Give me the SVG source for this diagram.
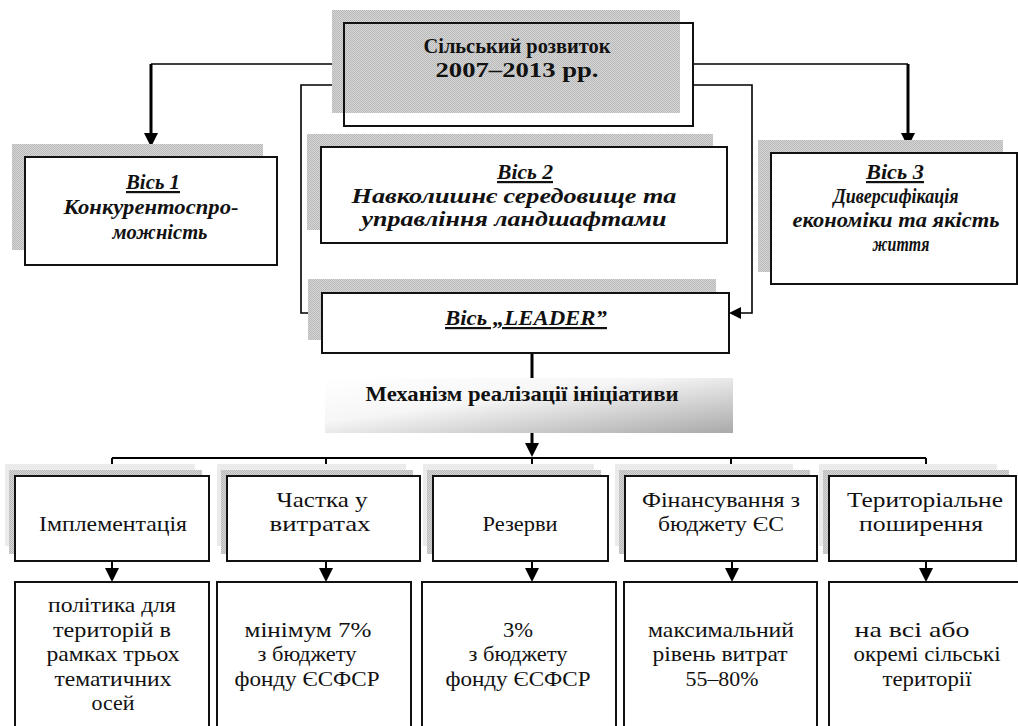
<svg xmlns="http://www.w3.org/2000/svg" width="1018" height="726" viewBox="0 0 1018 726">
<defs>
<pattern id="dots" width="2" height="2" patternUnits="userSpaceOnUse">
<rect width="2" height="2" fill="#d6d6d6"/>
<rect width="1" height="1" fill="#b9b9b9"/>
<rect x="1" y="1" width="1" height="1" fill="#b9b9b9"/>
</pattern>
<linearGradient id="mech" x1="0" y1="0" x2="1" y2="1">
<stop offset="0" stop-color="#ffffff"/>
<stop offset="0.4" stop-color="#f6f6f6"/>
<stop offset="1" stop-color="#a9a9a9"/>
</linearGradient>
<marker id="ah" viewBox="0 0 14 14" markerUnits="userSpaceOnUse" markerWidth="14" markerHeight="14" refX="8" refY="7" orient="auto">
<path d="M0,0 L14,7 L0,14 z" fill="#000"/>
</marker>
<marker id="ahs" viewBox="0 0 12 12" markerUnits="userSpaceOnUse" markerWidth="12" markerHeight="12" refX="6" refY="6" orient="auto">
<path d="M0,0 L12,6 L0,12 z" fill="#000"/>
</marker>
</defs>
<style>
.sh{fill:url(#dots)}
.shl{fill:#ebebeb}
.bx{fill:#fff;stroke:#111;stroke-width:2}
.bxn{fill:none;stroke:#111;stroke-width:2}
.ln{fill:none;stroke:#000;stroke-width:1.6}
.lt{fill:none;stroke:#000;stroke-width:3}
.lm{fill:none;stroke:#000;stroke-width:2}
</style>
<rect width="1018" height="726" fill="#fff"/>

<g id="connectors">
<path class="ln" d="M344,64 H151"/>
<path class="lt" d="M151,64 V141" marker-end="url(#ah)"/>
<path class="ln" d="M693,64 H908"/>
<path class="lt" d="M908,64 V141" marker-end="url(#ah)"/>
<path class="ln" d="M344,85 H301 V313 H316" marker-end="url(#ahs)"/>
<path class="ln" d="M693,85 H752 V313 H735" marker-end="url(#ahs)"/>
<path class="lt" d="M532,353 V378"/>
<path class="lt" d="M532,433 V451" marker-end="url(#ah)"/>
<path class="lm" d="M112,458 H926"/>
<path class="lm" d="M112,458 V476 M326,458 V476 M532,458 V476 M731,458 V476 M926,458 V476"/>
<path class="lm" d="M112,561 V576" marker-end="url(#ah)"/>
<path class="lm" d="M326,561 V576" marker-end="url(#ah)"/>
<path class="lm" d="M532,561 V576" marker-end="url(#ah)"/>
<path class="lm" d="M732,561 V576" marker-end="url(#ah)"/>
<path class="lm" d="M926,561 V576" marker-end="url(#ah)"/>
</g>

<g id="node-main">
<rect class="sh" x="332" y="10" width="348" height="103"/>
<rect class="bxn" x="344" y="23" width="349" height="103"/>
<text font-family="Liberation Serif" font-size="22" font-weight="bold" text-anchor="middle" fill="#111" x="517" y="53" textLength="187" lengthAdjust="spacingAndGlyphs">Сільський розвиток</text>
<text font-family="Liberation Serif" font-size="22" font-weight="bold" text-anchor="middle" fill="#111" x="517" y="77" textLength="163" lengthAdjust="spacingAndGlyphs">2007–2013 рр.</text>
</g>

<g id="node-axis1">
<rect class="sh" x="12" y="144" width="251" height="106"/>
<rect class="bx" x="25" y="157" width="252" height="108"/>
<text font-family="Liberation Serif" font-size="22" font-weight="bold" font-style="italic" text-decoration="underline" text-anchor="middle" fill="#111" x="153" y="189" textLength="54" lengthAdjust="spacingAndGlyphs">Вісь 1</text>
<text font-family="Liberation Serif" font-size="22" font-weight="bold" font-style="italic" text-anchor="middle" fill="#111" x="151" y="214" textLength="175" lengthAdjust="spacingAndGlyphs">Конкурентоспро-</text>
<text font-family="Liberation Serif" font-size="22" font-weight="bold" font-style="italic" text-anchor="middle" fill="#111" x="160" y="239" textLength="95" lengthAdjust="spacingAndGlyphs">можність</text>
</g>

<g id="node-axis2">
<rect class="sh" x="307" y="134" width="406" height="96"/>
<rect class="bx" x="321" y="147" width="406" height="96"/>
<text font-family="Liberation Serif" font-size="22" font-weight="bold" font-style="italic" text-decoration="underline" text-anchor="middle" fill="#111" x="525" y="179" textLength="56" lengthAdjust="spacingAndGlyphs">Вісь 2</text>
<text font-family="Liberation Serif" font-size="22" font-weight="bold" font-style="italic" text-anchor="middle" fill="#111" x="514" y="203" textLength="325" lengthAdjust="spacingAndGlyphs">Навколишнє середовище та</text>
<text font-family="Liberation Serif" font-size="22" font-weight="bold" font-style="italic" text-anchor="middle" fill="#111" x="514" y="226" textLength="305" lengthAdjust="spacingAndGlyphs">управління ландшафтами</text>
</g>

<g id="node-axis3">
<rect class="sh" x="758" y="140" width="245" height="132"/>
<rect class="bx" x="771" y="153" width="246" height="131"/>
<text font-family="Liberation Serif" font-size="22" font-weight="bold" font-style="italic" text-decoration="underline" text-anchor="middle" fill="#111" x="895" y="179" textLength="58" lengthAdjust="spacingAndGlyphs">Вісь 3</text>
<text font-family="Liberation Serif" font-size="22" font-weight="bold" font-style="italic" text-anchor="middle" fill="#111" x="896" y="203" textLength="125" lengthAdjust="spacingAndGlyphs">Диверсифікація</text>
<text font-family="Liberation Serif" font-size="22" font-weight="bold" font-style="italic" text-anchor="middle" fill="#111" x="896" y="227" textLength="207" lengthAdjust="spacingAndGlyphs">економіки та якість</text>
<text font-family="Liberation Serif" font-size="22" font-weight="bold" font-style="italic" text-anchor="middle" fill="#111" x="901" y="251" textLength="57" lengthAdjust="spacingAndGlyphs">життя</text>
</g>

<g id="node-leader">
<rect class="sh" x="308" y="279" width="408" height="61"/>
<rect class="bx" x="322" y="293" width="407" height="60"/>
<text font-family="Liberation Serif" font-size="22" font-weight="bold" font-style="italic" text-decoration="underline" text-anchor="middle" fill="#111" x="526" y="325" textLength="162" lengthAdjust="spacingAndGlyphs">Вісь „LEADER”</text>
</g>

<g id="node-mechanism">
<rect x="325" y="378" width="408" height="55" fill="url(#mech)"/>
<text font-family="Liberation Serif" font-size="22" font-weight="bold" text-anchor="middle" fill="#111" x="522" y="401" textLength="313" lengthAdjust="spacingAndGlyphs">Механізм реалізації ініціативи</text>
</g>

<g id="node-impl">
<rect class="shl" x="5" y="464" width="190" height="82"/>
<rect class="sh" x="9" y="470" width="193" height="84"/>
<rect class="bx" x="15" y="476" width="194" height="85"/>
<text font-family="Liberation Serif" font-size="22" text-anchor="middle" fill="#111" x="113" y="531" textLength="148" lengthAdjust="spacingAndGlyphs">Імплементація</text>
</g>

<g id="node-share">
<rect class="shl" x="217" y="464" width="189" height="82"/>
<rect class="sh" x="221" y="470" width="192" height="84"/>
<rect class="bx" x="227" y="476" width="193" height="85"/>
<text font-family="Liberation Serif" font-size="22" text-anchor="middle" fill="#111" x="322" y="507" textLength="91" lengthAdjust="spacingAndGlyphs">Частка у</text>
<text font-family="Liberation Serif" font-size="22" text-anchor="middle" fill="#111" x="320" y="531" textLength="101" lengthAdjust="spacingAndGlyphs">витратах</text>
</g>

<g id="node-reserve">
<rect class="shl" x="423" y="464" width="171" height="82"/>
<rect class="sh" x="427" y="470" width="174" height="84"/>
<rect class="bx" x="433" y="476" width="175" height="85"/>
<text font-family="Liberation Serif" font-size="22" text-anchor="middle" fill="#111" x="520" y="531" textLength="75" lengthAdjust="spacingAndGlyphs">Резерви</text>
</g>

<g id="node-finance">
<rect class="shl" x="615" y="464" width="178" height="82"/>
<rect class="sh" x="619" y="470" width="191" height="84"/>
<rect class="bx" x="625" y="476" width="192" height="85"/>
<text font-family="Liberation Serif" font-size="22" text-anchor="middle" fill="#111" x="721" y="507" textLength="158" lengthAdjust="spacingAndGlyphs">Фінансування з</text>
<text font-family="Liberation Serif" font-size="22" text-anchor="middle" fill="#111" x="721" y="531" textLength="126" lengthAdjust="spacingAndGlyphs">бюджету ЄС</text>
</g>

<g id="node-territory">
<rect class="shl" x="819" y="464" width="178" height="82"/>
<rect class="sh" x="823" y="470" width="186" height="84"/>
<rect class="bx" x="829" y="476" width="187" height="85"/>
<text font-family="Liberation Serif" font-size="22" text-anchor="middle" fill="#111" x="925" y="507" textLength="156" lengthAdjust="spacingAndGlyphs">Територіальне</text>
<text font-family="Liberation Serif" font-size="22" text-anchor="middle" fill="#111" x="921" y="531" textLength="124" lengthAdjust="spacingAndGlyphs">поширення</text>
</g>

<g id="node-impl-detail">
<rect class="bx" x="15" y="582" width="194" height="160"/>
<text font-family="Liberation Serif" font-size="22" text-anchor="middle" fill="#111" x="112" y="612" textLength="128" lengthAdjust="spacingAndGlyphs">політика для</text>
<text font-family="Liberation Serif" font-size="22" text-anchor="middle" fill="#111" x="112" y="637" textLength="118" lengthAdjust="spacingAndGlyphs">територій в</text>
<text font-family="Liberation Serif" font-size="22" text-anchor="middle" fill="#111" x="113" y="661" textLength="133" lengthAdjust="spacingAndGlyphs">рамках трьох</text>
<text font-family="Liberation Serif" font-size="22" text-anchor="middle" fill="#111" x="113" y="686" textLength="117" lengthAdjust="spacingAndGlyphs">тематичних</text>
<text font-family="Liberation Serif" font-size="22" text-anchor="middle" fill="#111" x="113" y="710" textLength="43" lengthAdjust="spacingAndGlyphs">осей</text>
</g>

<g id="node-share-detail">
<rect class="bx" x="217" y="582" width="194" height="160"/>
<text font-family="Liberation Serif" font-size="22" text-anchor="middle" fill="#111" x="308" y="637" textLength="127" lengthAdjust="spacingAndGlyphs">мінімум 7%</text>
<text font-family="Liberation Serif" font-size="22" text-anchor="middle" fill="#111" x="307" y="661" textLength="99" lengthAdjust="spacingAndGlyphs">з бюджету</text>
<text font-family="Liberation Serif" font-size="22" text-anchor="middle" fill="#111" x="307" y="686" textLength="145" lengthAdjust="spacingAndGlyphs">фонду ЄСФСР</text>
</g>

<g id="node-reserve-detail">
<rect class="bx" x="422" y="582" width="194" height="160"/>
<text font-family="Liberation Serif" font-size="22" text-anchor="middle" fill="#111" x="518" y="637" textLength="30" lengthAdjust="spacingAndGlyphs">3%</text>
<text font-family="Liberation Serif" font-size="22" text-anchor="middle" fill="#111" x="518" y="661" textLength="99" lengthAdjust="spacingAndGlyphs">з бюджету</text>
<text font-family="Liberation Serif" font-size="22" text-anchor="middle" fill="#111" x="518" y="686" textLength="145" lengthAdjust="spacingAndGlyphs">фонду ЄСФСР</text>
</g>

<g id="node-finance-detail">
<rect class="bx" x="624" y="582" width="193" height="160"/>
<text font-family="Liberation Serif" font-size="22" text-anchor="middle" fill="#111" x="721" y="637" textLength="146" lengthAdjust="spacingAndGlyphs">максимальний</text>
<text font-family="Liberation Serif" font-size="22" text-anchor="middle" fill="#111" x="720" y="661" textLength="135" lengthAdjust="spacingAndGlyphs">рівень витрат</text>
<text font-family="Liberation Serif" font-size="22" text-anchor="middle" fill="#111" x="722" y="686" textLength="73" lengthAdjust="spacingAndGlyphs">55–80%</text>
</g>

<g id="node-territory-detail">
<rect class="bx" x="829" y="582" width="200" height="160"/>
<text font-family="Liberation Serif" font-size="22" text-anchor="middle" fill="#111" x="912" y="637" textLength="115" lengthAdjust="spacingAndGlyphs">на всі або</text>
<text font-family="Liberation Serif" font-size="22" text-anchor="middle" fill="#111" x="927" y="661" textLength="147" lengthAdjust="spacingAndGlyphs">окремі сільські</text>
<text font-family="Liberation Serif" font-size="22" text-anchor="middle" fill="#111" x="927" y="686" textLength="89" lengthAdjust="spacingAndGlyphs">території</text>
</g>
</svg>
